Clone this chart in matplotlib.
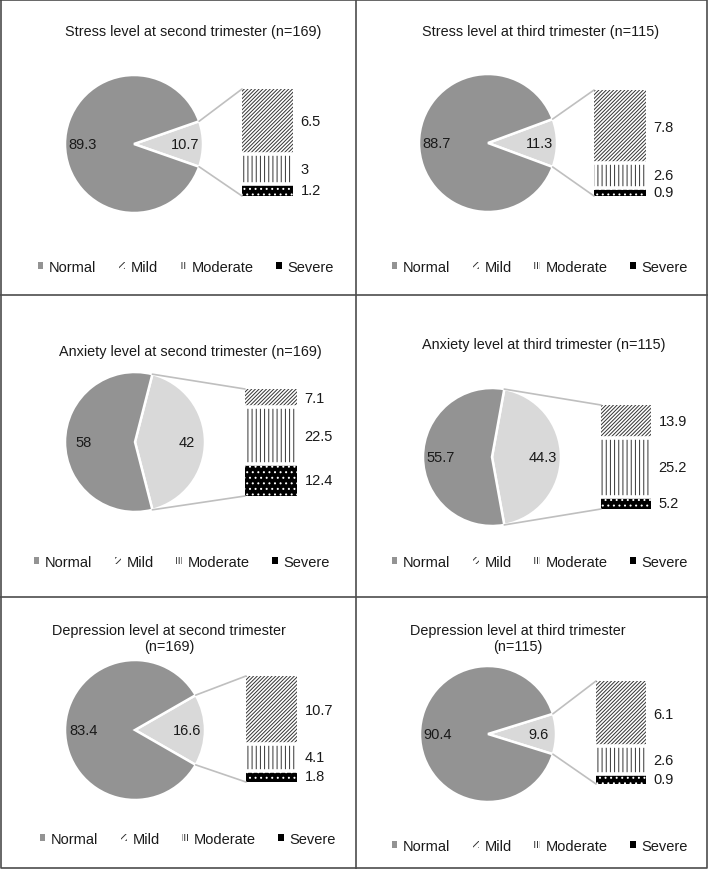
import math
import matplotlib
matplotlib.use('Agg')
from matplotlib import pyplot as plt
from matplotlib.patches import Patch, ConnectionPatch

plt.rcParams['font.family'] = ['Liberation Sans', 'DejaVu Sans']
plt.rcParams['hatch.linewidth'] = 0.7

# data (percent)
titles = ["Stress level at second trimester (n=169)",
          "Stress level at third trimester (n=115)",
          "Anxiety level at second trimester (n=169)",
          "Anxiety level at third trimester (n=115)",
          "Depression level at second trimester\n(n=169)",
          "Depression level at third trimester\n(n=115)"]
normal = [89.3, 88.7, 58, 55.7, 83.4, 90.4]
other = [10.7, 11.3, 42, 44.3, 16.6, 9.6]
mild = [6.5, 7.8, 7.1, 13.9, 10.7, 6.1]
moderate = [3, 2.6, 22.5, 25.2, 4.1, 2.6]
severe = [1.2, 0.9, 12.4, 5.2, 1.8, 0.9]
legend_labels = ["Normal", "Mild", "Moderate", "Severe"]

# layout in pixels: pie centre/radius, bar box, title centre, legend centre
W, H = 708, 870
layout = [
    dict(pie=(134, 145, 69), bar=(242, 90, 293, 197), title=(193, 32), leg=(186, 268)),
    dict(pie=(488, 144, 69), bar=(594, 91, 646, 197), title=(541, 32), leg=(540, 268)),
    dict(pie=(135, 443, 70), bar=(245, 390, 297, 497), title=(190, 352), leg=(182, 563)),
    dict(pie=(492, 458, 69), bar=(601, 406, 651, 510), title=(544, 345), leg=(540, 563)),
    dict(pie=(135, 731, 70), bar=(246, 677, 297, 783), title=(169, 639), leg=(188, 840)),
    dict(pie=(488, 735, 68), bar=(596, 682, 646, 785), title=(518, 639), leg=(540, 847)),
]

DARK = '#939393'
LIGHT = '#d9d9d9'
HATCH = '#333333'
TXT = '#1a1a1a'
LINE = '#bfbfbf'

MILD_H = '/' * 9
MOD_H = '||||'
SEV_H = '...'

fig = plt.figure(figsize=(W / 100, H / 100), dpi=100)

# panel borders
bg = fig.add_axes([0, 0, 1, 1])
bg.set_xlim(0, W)
bg.set_ylim(H, 0)
bg.axis('off')
bc = '#4d4d4d'
bg.plot([0.7, W - 0.7, W - 0.7, 0.7, 0.7], [0.7, 0.7, H - 0.7, H - 0.7, 0.7], color=bc, lw=1.2)
bg.plot([356, 356], [0, H], color=bc, lw=1.2)
bg.plot([0, W], [296, 296], color=bc, lw=1.2)
bg.plot([0, W], [598, 598], color=bc, lw=1.2)

# bottom -> top: severe, moderate, mild
seg_styles = [dict(facecolor='black', edgecolor='white', hatch=SEV_H),
              dict(facecolor='white', edgecolor=HATCH, hatch=MOD_H),
              dict(facecolor='white', edgecolor=HATCH, hatch=MILD_H)]


def px_rect(x0, y0, x1, y1):
    return [x0 / W, 1 - y1 / H, (x1 - x0) / W, (y1 - y0) / H]


for i, lay in enumerate(layout):
    cx, cy, r = lay['pie']
    m = 1.05
    axp = fig.add_axes(px_rect(cx - m * r, cy - m * r, cx + m * r, cy + m * r))
    half = other[i] * 3.6 / 2
    vals = iter(['%g' % other[i], '%g' % normal[i]])
    axp.pie([other[i], normal[i]], colors=[LIGHT, DARK], startangle=-half,
            counterclock=True, autopct=lambda p: next(vals), pctdistance=0.74,
            wedgeprops=dict(edgecolor='white', linewidth=1.8),
            textprops=dict(fontsize=10.5, color=TXT))
    axp.set_xlim(-m, m)
    axp.set_ylim(-m, m)
    axp.axis('off')

    x0, y0, x1, y1 = lay['bar']
    axb = fig.add_axes(px_rect(x0, y0, x1, y1))
    parts = [severe[i], moderate[i], mild[i]]
    total = sum(parts)
    bottom = 0
    for v, st in zip(parts, seg_styles):
        axb.bar(0, v, bottom=bottom, width=1, linewidth=0, **st)
        axb.annotate('%g' % v, xy=(0.5, bottom + v / 2), xytext=(5.5, 0),
                     textcoords='offset points', ha='left', va='center',
                     fontsize=10.5, color=TXT, annotation_clip=False)
        bottom += v
    b = 0
    for v in parts[:-1]:
        b += v
        axb.axhline(b, color='white', lw=2.6, zorder=5)
    axb.set_xlim(-0.5, 0.5)
    axb.set_ylim(0, total)
    axb.axis('off')

    th = math.radians(half)
    for sgn, yb in ((1, total), (-1, 0)):
        con = ConnectionPatch(xyA=(math.cos(th), sgn * math.sin(th)), coordsA=axp.transData,
                              xyB=(-0.5, yb), coordsB=axb.transData,
                              color=LINE, lw=1.2)
        fig.add_artist(con)

    tx, ty = lay['title']
    fig.text(tx / W, 1 - ty / H, titles[i], ha='center', va='center',
             fontsize=10.4, color=TXT, linespacing=1.15)

    handles = [Patch(facecolor=DARK, edgecolor=DARK, linewidth=0),
               Patch(facecolor='white', edgecolor=HATCH, hatch='/////', linewidth=0),
               Patch(facecolor='white', edgecolor=HATCH, hatch='||||||', linewidth=0),
               Patch(facecolor='black', edgecolor='black', linewidth=0)]
    lx, ly = lay['leg']
    fig.legend(handles, legend_labels, loc='center', bbox_to_anchor=(lx / W, 1 - ly / H),
               ncol=4, frameon=False, handlelength=0.38, handleheight=0.38,
               handletextpad=0.4, columnspacing=1.55, borderpad=0,
               prop=dict(size=10.5), labelcolor=TXT)

fig.savefig('out.png', dpi=100)
